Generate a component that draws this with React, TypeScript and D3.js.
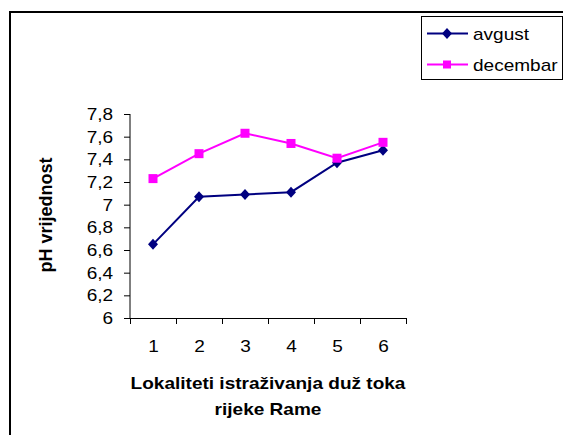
import React, { useEffect, useRef } from "react";
import * as d3 from "d3";

const sites = [1, 2, 3, 4, 5, 6];
const avgust = [6.65, 7.07, 7.09, 7.11, 7.37, 7.48];
const decembar = [7.23, 7.45, 7.63, 7.54, 7.41, 7.55];
const yTicks = [6, 6.2, 6.4, 6.6, 6.8, 7, 7.2, 7.4, 7.6, 7.8];
const seriesNames = ["avgust", "decembar"];
const seriesColors = ["#000080", "#FF00FF"];

const FONT = "'Liberation Sans', Arial, sans-serif";
const STRETCH = "scale(1.12,1)";
const DIAMOND = "M0,-5.5L5,0L0,5.5L-5,0Z";

function App() {
    const svgRef = useRef<SVGSVGElement>(null);

    useEffect(() => {
        const width = 563;
        const height = 435;
        const plotLeft = 130;
        const plotRight = 406;
        const plotTop = 114;
        const plotBottom = 318;

        const svg = d3.select(svgRef.current)
            .attr("width", width)
            .attr("height", height);

        svg.selectAll("*").remove();

        // outer chart frame (runs off the right and bottom edges)
        svg.append("rect")
            .attr("x", 10)
            .attr("y", 12)
            .attr("width", 600)
            .attr("height", 500)
            .attr("fill", "white")
            .attr("stroke", "#000")
            .attr("stroke-width", 2);

        const x = d3.scaleLinear()
            .domain([0.5, 6.5])
            .range([plotLeft, plotRight]);

        const y = d3.scaleLinear()
            .domain([6, 7.8])
            .range([plotBottom, plotTop]);

        // y axis
        const yAxis = svg.append("g")
            .attr("transform", `translate(${plotLeft},0)`)
            .call(d3.axisLeft(y)
                .tickValues(yTicks)
                .tickSize(6)
                .tickPadding(9)
                .tickFormat(d => String(d).replace(".", ",")));
        yAxis.select(".domain").attr("stroke", "#000").attr("d", `M0,${plotTop}V${plotBottom}`);
        yAxis.selectAll("text")
            .attr("font-family", FONT)
            .attr("font-size", 17)
            .attr("fill", "#000")
            .attr("transform", STRETCH);

        // x axis: boundary ticks
        const boundaries = d3.range(0.5, 7, 1);
        const xAxis = svg.append("g")
            .attr("transform", `translate(0,${plotBottom})`)
            .call(d3.axisBottom(x)
                .tickValues(boundaries)
                .tickSize(6)
                .tickSizeOuter(0)
                .tickFormat(() => ""));
        xAxis.select(".domain").attr("stroke", "#000");

        // x axis: category labels
        const xLabels = svg.append("g")
            .attr("transform", `translate(0,${plotBottom})`)
            .call(d3.axisBottom(x)
                .tickValues(sites)
                .tickSize(0)
                .tickPadding(22)
                .tickFormat(d => String(d)));
        xLabels.select(".domain").remove();
        xLabels.selectAll("text")
            .attr("font-family", FONT)
            .attr("font-size", 17)
            .attr("fill", "#000")
            .attr("transform", STRETCH);

        // series lines
        const allSeries = [avgust, decembar];
        allSeries.forEach((vals, i) => {
            const line = d3.line<number>()
                .x((_, j) => x(sites[j]))
                .y(d => y(d));
            svg.append("path")
                .datum(vals)
                .attr("d", line)
                .attr("fill", "none")
                .attr("stroke", seriesColors[i])
                .attr("stroke-width", 2);
        });

        // markers: diamonds for avgust
        svg.selectAll(".dia")
            .data(avgust)
            .enter()
            .append("path")
            .attr("d", DIAMOND)
            .attr("transform", (d, j) => `translate(${x(sites[j])},${y(d)})`)
            .attr("fill", seriesColors[0]);

        // markers: squares for decembar
        svg.selectAll(".sq")
            .data(decembar)
            .enter()
            .append("rect")
            .attr("x", (_, j) => x(sites[j]) - 4.5)
            .attr("y", d => y(d) - 4.5)
            .attr("width", 9)
            .attr("height", 9)
            .attr("fill", seriesColors[1]);

        // y axis title
        svg.append("text")
            .attr("transform", "translate(52,215) rotate(-90)")
            .attr("text-anchor", "middle")
            .attr("font-family", FONT)
            .attr("font-weight", "bold")
            .attr("font-size", 18)
            .text("pH vrijednost");

        // x axis title
        const titleLines = ["Lokaliteti istraživanja duž toka", "rijeke Rame"];
        titleLines.forEach((t, i) => {
            svg.append("text")
                .attr("transform", `translate(${(plotLeft + plotRight) / 2},${389 + i * 25.5}) ${STRETCH}`)
                .attr("text-anchor", "middle")
                .attr("font-family", FONT)
                .attr("font-weight", "bold")
                .attr("font-size", 17)
                .text(t);
        });

        // legend
        const legend = svg.append("g");
        legend.append("rect")
            .attr("x", 421.5)
            .attr("y", 16.5)
            .attr("width", 141)
            .attr("height", 63)
            .attr("fill", "white")
            .attr("stroke", "#000")
            .attr("stroke-width", 1);

        seriesNames.forEach((name, i) => {
            const ly = 33.5 + i * 31;
            legend.append("line")
                .attr("x1", 427)
                .attr("x2", 468)
                .attr("y1", ly)
                .attr("y2", ly)
                .attr("stroke", seriesColors[i])
                .attr("stroke-width", 2);
            if (i === 0) {
                legend.append("path")
                    .attr("d", DIAMOND)
                    .attr("transform", `translate(447,${ly})`)
                    .attr("fill", seriesColors[i]);
            } else {
                legend.append("rect")
                    .attr("x", 443)
                    .attr("y", ly - 4)
                    .attr("width", 8)
                    .attr("height", 8)
                    .attr("fill", seriesColors[i]);
            }
            legend.append("text")
                .attr("transform", `translate(473,${ly + 6}) ${STRETCH}`)
                .attr("font-family", FONT)
                .attr("font-size", 17)
                .text(name);
        });
    }, []);

    return (
        <svg
            ref={svgRef}
            style={{ position: "absolute", left: 0, top: 0, display: "block", background: "white" }}
        ></svg>
    );
}

export default App;
